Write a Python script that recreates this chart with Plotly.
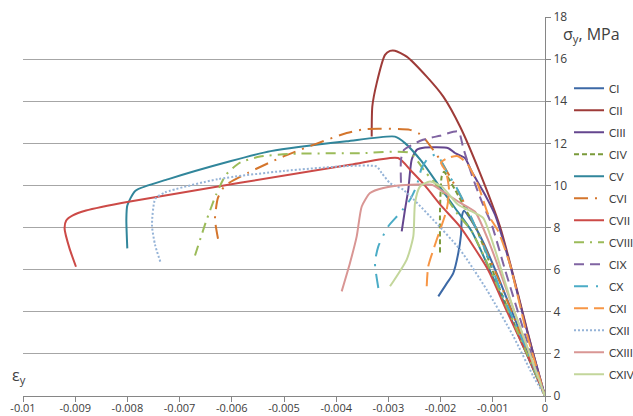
import plotly.graph_objects as go

# Stress-strain curves of the specimens (strain, stress in MPa)
CI_eps = [-2.044e-3, -1.897e-3, -1.757e-3, -1.661e-3, -1.609e-3, -1.590e-3, -1.552e-3, -1.398e-3, -1.207e-3, -0.939e-3, -0.556e-3, 0.0]
CI_sig = [4.73, 5.29, 5.84, 6.79, 7.66, 8.56, 8.80, 8.28, 7.42, 5.91, 3.53, 0.0]

CII_eps = [-3.320e-3, -3.308e-3, -3.224e-3, -3.065e-3, -2.969e-3, -2.874e-3, -2.649e-3, -2.266e-3, -1.948e-3, -1.628e-3, -1.245e-3, -0.862e-3, -0.651e-3, -0.441e-3, -0.230e-3, 0.0]
CII_sig = [12.32, 13.75, 14.86, 16.20, 16.39, 16.40, 16.12, 15.17, 14.22, 12.80, 10.59, 8.05, 6.14, 4.10, 2.06, 0.0]

CIII_eps = [-2.745e-3, -2.682e-3, -2.619e-3, -2.554e-3, -2.458e-3, -2.299e-3, -1.852e-3, -1.724e-3, -1.533e-3, -1.404e-3, -1.149e-3, -0.958e-3, -0.670e-3, -0.326e-3, 0.0]
CIII_sig = [7.82, 8.85, 9.80, 11.22, 11.69, 11.80, 11.77, 11.54, 11.30, 10.66, 9.56, 8.61, 6.24, 2.92, 0.0]

CIV_eps = [-2.011e-3, -2.011e-3, -1.979e-3, -1.935e-3, -1.877e-3, -1.724e-3, -1.500e-3, -1.308e-3, -0.862e-3, 0.0]
CIV_sig = [6.81, 8.85, 10.43, 10.65, 10.46, 9.80, 8.77, 7.90, 5.05, 0.0]

CV_eps = [-8.002e-3, -8.02e-3, -8.002e-3, -7.845e-3, -7.213e-3, -6.015e-3, -5.253e-3, -3.799e-3, -2.874e-3, -2.682e-3, -2.362e-3, -2.044e-3, -1.724e-3, -1.404e-3, -0.709e-3, 0.0]
CV_sig = [7.01, 8.40, 9.05, 9.75, 10.30, 11.16, 11.63, 12.10, 12.32, 12.01, 11.14, 10.03, 8.93, 7.82, 4.01, 0.0]

CVI_eps = [-6.264e-3, -6.322e-3, -6.264e-3, -6.130e-3, -5.690e-3, -5.000e-3, -3.799e-3, -3.416e-3, -2.586e-3, -2.427e-3, -2.337e-3, -2.011e-3, -1.628e-3, -1.245e-3, -0.862e-3, -0.441e-3, 0.0]
CVI_sig = [7.47, 8.42, 9.42, 9.99, 10.60, 11.39, 12.49, 12.68, 12.64, 12.49, 12.32, 11.22, 9.56, 7.57, 5.38, 2.77, 0.0]

CVII_eps = [-8.985e-3, -9.109e-3, -9.203e-3, -9.172e-3, -9.046e-3, -8.793e-3, -7.950e-3, -3.736e-3, -2.816e-3, -2.548e-3, -2.299e-3, -1.973e-3, -1.628e-3, -1.092e-3, -0.728e-3, -0.345e-3, 0.0]
CVII_sig = [6.14, 7.01, 7.95, 8.34, 8.58, 8.81, 9.24, 10.98, 11.30, 10.65, 9.99, 8.99, 8.04, 6.00, 4.01, 1.97, 0.0]

CVIII_eps = [-6.705e-3, -6.494e-3, -6.303e-3, -6.111e-3, -5.843e-3, -5.460e-3, -4.885e-3, -3.544e-3, -2.586e-3, -2.299e-3, -1.979e-3, -1.665e-3, -1.404e-3, -0.670e-3, 0.0]
CVIII_sig = [6.67, 8.28, 9.55, 10.51, 11.08, 11.37, 11.50, 11.53, 11.54, 10.66, 9.72, 8.61, 7.82, 3.87, 0.0]

CIX_eps = [-2.759e-3, -2.759e-3, -2.701e-3, -2.337e-3, -2.011e-3, -1.661e-3, -1.565e-3, -1.404e-3, -1.213e-3, -1.021e-3, -0.766e-3, -0.383e-3, 0.0]
CIX_sig = [10.13, 11.22, 11.69, 12.17, 12.36, 12.56, 11.77, 10.51, 9.24, 8.14, 6.00, 2.92, 0.0]

CX_eps = [-3.193e-3, -3.257e-3, -3.193e-3, -3.002e-3, -2.778e-3, -2.586e-3, -2.458e-3, -2.362e-3, -2.236e-3, -2.107e-3, -2.044e-3, -1.852e-3, -1.724e-3, -1.437e-3, -1.149e-3, -0.830e-3, -0.351e-3, 0.0]
CX_sig = [5.13, 6.32, 7.11, 8.06, 8.69, 9.32, 9.99, 10.83, 11.30, 11.46, 11.38, 10.51, 10.03, 8.61, 6.95, 4.90, 2.21, 0.0]

CXI_eps = [-2.266e-3, -2.236e-3, -2.075e-3, -1.883e-3, -1.839e-3, -1.897e-3, -1.992e-3, -1.858e-3, -1.667e-3, -1.475e-3, -1.284e-3, -1.086e-3, -0.895e-3, -0.670e-3, -0.345e-3, 0.0]
CXI_sig = [5.21, 6.16, 7.42, 8.85, 9.80, 10.65, 11.08, 11.31, 11.39, 10.98, 10.03, 8.61, 7.82, 6.24, 2.92, 0.0]

CXII_eps = [-7.370e-3, -7.471e-3, -7.529e-3, -7.466e-3, -7.276e-3, -6.264e-3, -5.000e-3, -3.799e-3, -3.224e-3, -3.128e-3, -2.969e-3, -2.715e-3, -2.203e-3, -1.628e-3, -1.117e-3, -0.607e-3, -0.224e-3, 0.0]
CXII_sig = [6.38, 7.19, 8.11, 9.36, 9.67, 10.30, 10.69, 10.92, 10.90, 10.59, 10.11, 9.80, 8.53, 6.95, 5.05, 2.84, 0.94, 0.0]

CXIII_eps = [-3.895e-3, -3.736e-3, -3.607e-3, -3.511e-3, -3.352e-3, -3.098e-3, -2.586e-3, -2.170e-3, -1.916e-3, -1.628e-3, -1.341e-3, -1.054e-3, -0.670e-3, -0.326e-3, 0.0]
CXIII_sig = [4.97, 6.32, 7.58, 9.00, 9.64, 9.88, 10.03, 10.03, 9.65, 9.18, 8.75, 7.19, 4.58, 2.21, 0.0]

CXIV_eps = [-2.969e-3, -2.649e-3, -2.523e-3, -2.490e-3, -2.395e-3, -2.203e-3, -1.979e-3, -1.661e-3, -1.341e-3, -1.182e-3, -0.958e-3, -0.632e-3, -0.287e-3, 0.0]
CXIV_sig = [5.21, 6.48, 7.58, 9.17, 9.95, 10.19, 9.95, 9.08, 8.69, 8.45, 6.95, 4.34, 1.97, 0.0]

x_tick_vals = [-0.01, -0.009, -0.008, -0.007, -0.006, -0.005, -0.004, -0.003, -0.002, -0.001, 0]
x_tick_text = ["-0.01", "-0.009", "-0.008", "-0.007", "-0.006", "-0.005", "-0.004", "-0.003", "-0.002", "-0.001", "0"]
y_tick_vals = [0, 2, 4, 6, 8, 10, 12, 14, 16, 18]

specimens = [
    ("CI", CI_eps, CI_sig, "#3C69A6", "solid"),
    ("CII", CII_eps, CII_sig, "#9E3B38", "solid"),
    ("CIII", CIII_eps, CIII_sig, "#64468E", "solid"),
    ("CIV", CIV_eps, CIV_sig, "#7A9A3A", "5px,3px"),
    ("CV", CV_eps, CV_sig, "#31869B", "solid"),
    ("CVI", CVI_eps, CVI_sig, "#D4752C", "14px,7px,2px,7px"),
    ("CVII", CVII_eps, CVII_sig, "#CC4A47", "solid"),
    ("CVIII", CVIII_eps, CVIII_sig, "#9BBB59", "10px,6px,2px,6px"),
    ("CIX", CIX_eps, CIX_sig, "#8064A2", "10px,6px"),
    ("CX", CX_eps, CX_sig, "#4BACC6", "14px,8px,2px,8px"),
    ("CXI", CXI_eps, CXI_sig, "#F79646", "14px,6px"),
    ("CXII", CXII_eps, CXII_sig, "#95B3D7", "2px,2px"),
    ("CXIII", CXIII_eps, CXIII_sig, "#D99694", "solid"),
    ("CXIV", CXIV_eps, CXIV_sig, "#C3D69B", "solid"),
]

fig = go.Figure()
for name, eps, sig, color, dash in specimens:
    fig.add_trace(go.Scatter(
        x=eps, y=sig, name=name, mode="lines", legendgroup=name,
        line=dict(color=color, width=2, dash=dash, shape="spline", smoothing=0.6),
    ))

font_family = "Open Sans, Noto Sans, sans-serif"
fig.update_layout(
    width=633, height=416,
    margin=dict(l=23, r=88, t=17, b=20, autoexpand=False),
    paper_bgcolor="white", plot_bgcolor="white",
    font=dict(family=font_family, size=11, color="#404040"),
    showlegend=True,
    legend=dict(
        x=1.046, y=0.85, xanchor="left", yanchor="top",
        font=dict(size=11, color="#404040", family="Lato, Open Sans, sans-serif"),
        tracegroupgap=3, traceorder="grouped",
        bgcolor="rgba(0,0,0,0)",
    ),
    xaxis=dict(
        range=[-0.01, 0], tickvals=x_tick_vals, ticktext=x_tick_text,
        showgrid=False, zeroline=False,
        showline=True, linecolor="#868686", linewidth=1,
        ticks="outside", ticklen=5, tickcolor="#868686",
        ticklabelstandoff=-3,
        tickfont=dict(size=11, color="#404040"),
    ),
    yaxis=dict(
        range=[0, 18], tickvals=y_tick_vals, side="right",
        showgrid=True, gridcolor="#A6A6A6", gridwidth=1, zeroline=False,
        showline=True, linecolor="#868686", linewidth=1,
        ticks="outside", ticklen=5, tickcolor="#868686",
        tickfont=dict(size=12, color="#404040"),
    ),
    annotations=[
        dict(text="σ<sub>y</sub>, MPa", xref="paper", yref="paper",
             x=1.03, y=0.953, xanchor="left", yanchor="middle", showarrow=False,
             font=dict(size=16, color="#404040", family=font_family)),
        dict(text="ε<sub>y</sub>", xref="paper", yref="paper",
             x=-0.025, y=0.055, xanchor="left", yanchor="middle", showarrow=False,
             font=dict(size=16, color="#404040", family=font_family)),
    ],
)

fig.write_html("out.html")
